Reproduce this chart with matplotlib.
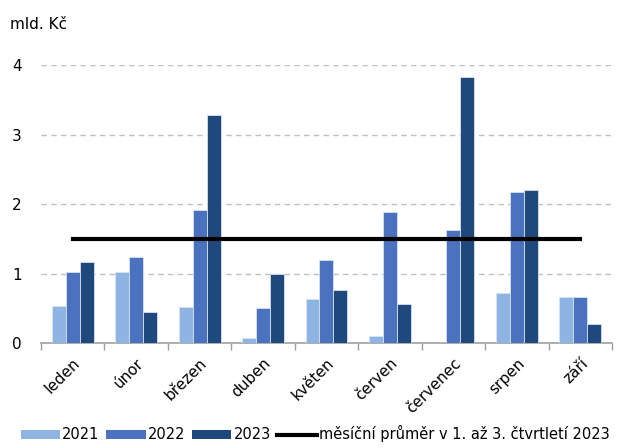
import numpy as np
import matplotlib.pyplot as plt
from matplotlib.patches import Patch
from matplotlib.lines import Line2D

months = ["leden", "únor", "březen", "duben", "květen", "červen", "červenec", "srpen", "září"]
v2021 = [0.53, 1.02, 0.52, 0.07, 0.63, 0.11, 0.0, 0.72, 0.66]
v2022 = [1.02, 1.24, 1.91, 0.50, 1.19, 1.88, 1.63, 2.17, 0.67]
v2023 = [1.17, 0.45, 3.28, 0.99, 0.76, 0.57, 3.83, 2.20, 0.27]
avg_2023 = 1.5

colors = ["#8EB4E3", "#4A72BE", "#1F497D"]
years = ["2021", "2022", "2023"]

plt.rcParams['font.family'] = ['DejaVu Sans']
fig = plt.figure(figsize=(6.24, 4.48), dpi=100)
ax = fig.add_axes([0.0657, 0.234, 0.915, 0.621])

x = np.arange(len(months))
w = 0.22
for i, (vals, c) in enumerate(zip([v2021, v2022, v2023], colors)):
    ax.bar(x + (i - 1) * w, vals, width=w, color=c, edgecolor="#d8e2f0", linewidth=0.6, zorder=3)

ax.plot([x[0], x[-1]], [avg_2023, avg_2023], color="black", linewidth=3, zorder=4)

ax.set_xlim(-0.5, len(months) - 0.5)
ax.set_ylim(0, 4)
ax.set_yticks([0, 1, 2, 3, 4])
ax.yaxis.grid(True, linestyle=(0, (4, 3)), color="#c0c0c0", linewidth=1, zorder=0)
ax.tick_params(axis="y", length=0, labelsize=11, pad=14)

ax.set_xticks(x)
ax.set_xticklabels(months, rotation=45, ha="right", rotation_mode="anchor", fontsize=11)
ax.tick_params(axis="x", length=0, pad=9)
ax.set_xticks(np.arange(-0.5, len(months)), minor=True)
ax.tick_params(axis="x", which="minor", length=5, color="#a0a0a0", width=1)

for s in ["top", "right", "left"]:
    ax.spines[s].set_visible(False)
ax.spines["bottom"].set_color("#a0a0a0")
ax.spines["bottom"].set_linewidth(1.2)

fig.text(0.016, 0.945, "mld. Kč", fontsize=11, va="center", ha="left")

handles = [Patch(facecolor=c, label=y) for c, y in zip(colors, years)]
handles.append(Line2D([0], [0], color="black", linewidth=3, label="měsíční průměr v 1. až 3. čtvrtletí 2023"))
fig.legend(handles=handles, loc="lower center", bbox_to_anchor=(0.505, -0.017), ncol=4, frameon=False,
           fontsize=10.5, handlelength=2.7, handletextpad=0.15, columnspacing=0.45, handleheight=0.6)

fig.savefig("out.png", dpi=100)
